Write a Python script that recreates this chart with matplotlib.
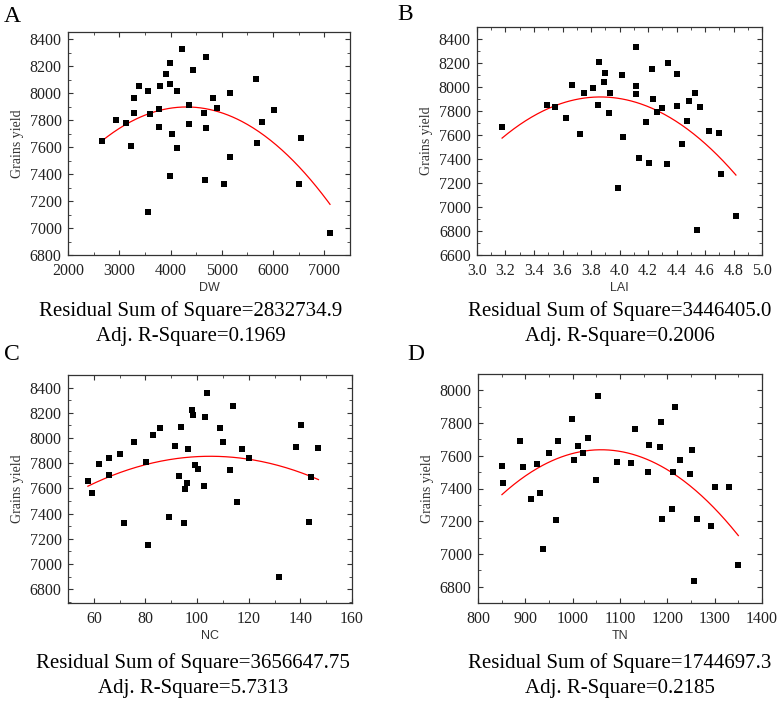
import numpy as np
import matplotlib.pyplot as plt
from matplotlib.ticker import AutoMinorLocator, MultipleLocator

# panel A: DW vs grain yield
dw_x = [2660, 2931, 3132, 3229, 3287, 3287, 3384, 3552, 3591, 3552, 3766, 3766, 3798, 3908,
        3999, 3999, 4122, 4025, 4122, 3999, 4232, 4361, 4361, 4439, 4646, 4697, 4697, 4678,
        4833, 4911, 5040, 5150, 5169, 5661, 5680, 5777, 6010, 6496, 6547, 7110]
dw_y = [7648, 7804, 7781, 7608, 7962, 7856, 8056, 8014, 7848, 7119, 7883, 7752, 8056, 8147,
        8226, 8066, 8014, 7695, 7596, 7386, 8330, 7910, 7774, 8172, 7853, 7739, 8273, 7356,
        7962, 7893, 7329, 8002, 7524, 8103, 7631, 7789, 7875, 7329, 7668, 6966]

# panel B: LAI
lai_x = [3.176, 3.488, 3.546, 3.624, 3.664, 3.724, 3.753, 3.814, 3.846, 3.856, 3.898, 3.889,
         3.928, 3.933, 3.987, 4.020, 4.027, 4.114, 4.114, 4.114, 4.135, 4.186, 4.210, 4.231,
         4.238, 4.266, 4.301, 4.332, 4.341, 4.402, 4.407, 4.440, 4.475, 4.491, 4.529, 4.543,
         4.564, 4.627, 4.700, 4.709, 4.817]
lai_y = [7663, 7846, 7835, 7741, 8015, 7611, 7951, 7993, 7846, 8209, 8120, 8040,
         7780, 7946, 7159, 8104, 7583, 8336, 8007, 7943, 7411, 7705, 7370, 8151,
         7899, 7788, 7821, 7356, 8200, 7838, 8112, 7522, 7713, 7885, 7951, 6810,
         7835, 7636, 7613, 7273, 6924]

# panel C: NC
nc_x = [57.7, 59.2, 62.2, 65.7, 65.7, 70.1, 71.6, 75.5, 80.3, 81.0, 83.0, 85.7, 89.0, 91.6,
        92.8, 93.7, 95.0, 95.4, 96.1, 96.5, 97.9, 98.6, 99.1, 100.3, 102.5, 103.2, 104.0,
        108.8, 110.1, 112.6, 113.8, 115.6, 117.5, 120.1, 131.6, 138.2, 140.1, 143.2, 144.3, 147.0]
nc_y = [7655, 7560, 7793, 7845, 7706, 7869, 7323, 7970, 7806, 7154, 8022, 8083, 7376, 7938,
        7700, 8091, 7325, 7592, 7645, 7914, 8223, 8186, 7782, 7753, 7621, 8170, 8358,
        8078, 7970, 7745, 8255, 7492, 7909, 7840, 6900, 7930, 8107, 7331, 7690, 7922]

# panel D: TN
tn_x = [850.6, 852.7, 887.8, 894.2, 912.4, 924.4, 930, 937, 951, 965, 969, 998, 1002, 1011,
        1022, 1033, 1049, 1053, 1093, 1123, 1132, 1160, 1162, 1184, 1187, 1189, 1210, 1213,
        1217, 1227, 1248, 1252, 1257, 1262, 1292, 1301, 1331, 1350]
tn_y = [7540, 7434, 7689, 7530, 7333, 7550, 7372, 7029, 7618, 7207, 7689, 7826, 7577, 7661,
        7616, 7708, 7450, 7963, 7560, 7558, 7765, 7499, 7667, 7654, 7804, 7215, 7272, 7501,
        7898, 7577, 7487, 7636, 6836, 7213, 7172, 7409, 7409, 6933]

x_names = ["DW", "LAI", "NC", "TN"]
letters = ["A", "B", "C", "D"]
rss_text = ["Residual Sum of Square=2832734.9", "Residual Sum of Square=3446405.0",
            "Residual Sum of Square=3656647.75", "Residual Sum of Square=1744697.3"]
adj_text = ["Adj. R-Square=0.1969", "Adj. R-Square=0.2006",
            "Adj. R-Square=5.7313", "Adj. R-Square=0.2185"]

W, H = 779, 708
SERIF = "Liberation Serif"
SANS = "Liberation Sans"


def px_axes(fig, left, top, right, bottom):
    return fig.add_axes([left / W, 1 - bottom / H, (right - left) / W, (bottom - top) / H])


def draw_panel(ax, x, y, xlim, ylim, xstep, ystep, xname, xfmt=None):
    ax.scatter(x, y, marker="s", s=24, color="black", zorder=3, linewidths=0)
    # quadratic fit drawn as the red curve
    coef = np.polyfit(x, y, 2)
    xs = np.linspace(min(x), max(x), 200)
    ax.plot(xs, np.polyval(coef, xs), color="red", lw=0.9, zorder=2)
    ax.set_xlim(*xlim)
    ax.set_ylim(*ylim)
    ax.xaxis.set_major_locator(MultipleLocator(xstep))
    ax.yaxis.set_major_locator(MultipleLocator(ystep))
    ax.xaxis.set_minor_locator(AutoMinorLocator(2))
    ax.yaxis.set_minor_locator(AutoMinorLocator(2))
    if xfmt:
        ax.xaxis.set_major_formatter(xfmt)
    ax.tick_params(which="both", direction="in", top=True, right=True, color="#333333")
    ax.tick_params(which="major", length=3.5, labelsize=11.5, labelcolor="#222222")
    ax.tick_params(axis="x", which="major", pad=6)
    ax.tick_params(axis="y", which="major", pad=4.5)
    ax.tick_params(which="minor", length=2)
    for lab in ax.get_xticklabels() + ax.get_yticklabels():
        lab.set_fontfamily(SERIF)
    for sp in ax.spines.values():
        sp.set_linewidth(0.9)
        sp.set_color("#333333")
    ax.set_xlabel(xname, fontsize=9, family=SANS, color="#333333", labelpad=2)
    ax.set_ylabel("Grains yield", fontsize=10, family=SERIF, color="#333333", labelpad=4)


fig = plt.figure(figsize=(W / 100, H / 100), dpi=100)

axA = px_axes(fig, 68, 32, 350, 255)
draw_panel(axA, dw_x, dw_y, (2000, 7500), (6800, 8455), 1000, 200, "DW")

axB = px_axes(fig, 477, 27, 762, 255)
draw_panel(axB, lai_x, lai_y, (3.0, 5.0), (6600, 8500), 0.2, 200, "LAI",
           plt.FormatStrFormatter("%.1f"))

axC = px_axes(fig, 68, 375, 352, 603)
draw_panel(axC, nc_x, nc_y, (50, 160), (6690, 8500), 20, 200, "NC")

axD = px_axes(fig, 478, 374, 762, 603)
draw_panel(axD, tn_x, tn_y, (800, 1400), (6700, 8100), 100, 200, "TN")

# panel letters
for lx, ly, t in [(4, 16, "A"), (397, 14, "B"), (4, 355, "C"), (407, 355, "D")]:
    fig.text(lx / W, 1 - ly / H, t, fontsize=17, family=SERIF, va="center", ha="left")

# fit statistics under each panel
for cx, y1, y2, i in [(191, 311, 337, 0), (620, 311, 337, 1), (193, 663, 689, 2), (620, 663, 689, 3)]:
    fig.text(cx / W, 1 - y1 / H, rss_text[i], fontsize=15, family=SERIF, ha="center", va="center")
    fig.text(cx / W, 1 - y2 / H, adj_text[i], fontsize=15, family=SERIF, ha="center", va="center")

fig.savefig("out.png", dpi=100)
